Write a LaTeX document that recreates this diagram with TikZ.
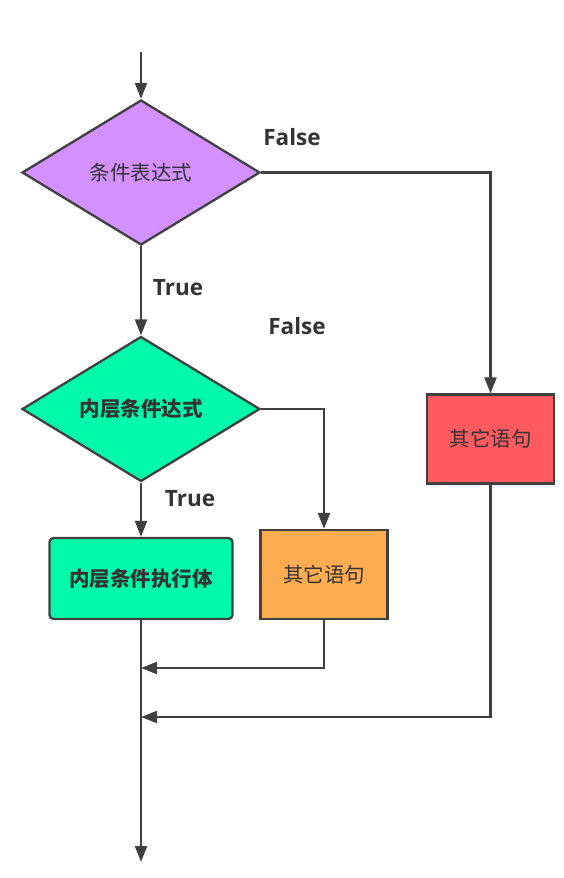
\documentclass[tikz,border=0pt]{standalone}
\usepackage{fontspec}
\setmainfont{Open Sans}
\newfontfamily\cjk{Noto Sans CJK SC}
\usetikzlibrary{shapes.geometric,arrows.meta}
\definecolor{lineC}{HTML}{404040}
\definecolor{txtC}{HTML}{333333}
\definecolor{purpleC}{HTML}{D291FF}
\definecolor{greenC}{HTML}{00F9AA}
\definecolor{orangeC}{HTML}{FFAD50}
\definecolor{redC}{HTML}{FF5A5F}
\tikzset{
  cond/.style={diamond, draw=lineC, line width=2.3pt, inner sep=0pt, minimum width=238pt, minimum height=145pt, text=txtC, font=\cjk\fontsize{20.5}{24}\selectfont},
  boxA/.style={rectangle, draw=lineC, line width=2.3pt, inner sep=0pt, text=txtC, font=\cjk\fontsize{20.5}{24}\selectfont},
  lbl/.style={text=txtC, font=\bfseries\fontsize{22.5}{26}\selectfont, inner sep=0pt},
  conn/.style={draw=lineC, line width=2.3pt, -{Triangle[length=16pt,width=12pt]}},
  plain/.style={draw=lineC, line width=2.3pt}
}
\begin{document}
\begin{tikzpicture}[x=1pt,y=-1pt]
\useasboundingbox (0,0) rectangle (564,878);
\coordinate (start) at (141,52);
\node[cond, fill=purpleC] (d1) at (141,172.5) {条件表达式};
\node[cond, fill=greenC, font=\cjk\bfseries\fontsize{20.5}{24}\selectfont] (d2) at (141,409) {内层条件达式};
\node[boxA, fill=greenC, rounded corners=4pt, minimum width=183pt, minimum height=81pt, font=\cjk\bfseries\fontsize{20.5}{24}\selectfont] (b1) at (141,578.5) {内层条件执行体};
\node[boxA, fill=orangeC, minimum width=127pt, minimum height=89pt] (b2) at (324,574.5) {其它语句};
\node[boxA, fill=redC, minimum width=127pt, minimum height=89pt] (b3) at (490.5,439) {其它语句};
\node[lbl] (f1) at (292,137) {False};
\node[lbl] (t1) at (178,288) {True};
\node[lbl] (f2) at (297,326) {False};
\node[lbl] (t2) at (190,499) {True};
\coordinate (m1) at (141,668);
\coordinate (m2) at (141,717);
\coordinate (endp) at (141,862);

\draw[conn] (start) -- (d1.north);
\draw[conn] (d1.east) -| (b3.north);
\draw[conn] (d1.south) -- (d2.north);
\draw[conn] (d2.east) -| (b2.north);
\draw[conn] (d2.south) -- (b1.north);
\draw[conn] (b1.south) -- (endp);
\draw[conn] (b2.south) |- (m1);
\draw[conn] (b3.south) |- (m2);
\end{tikzpicture}
\end{document}
